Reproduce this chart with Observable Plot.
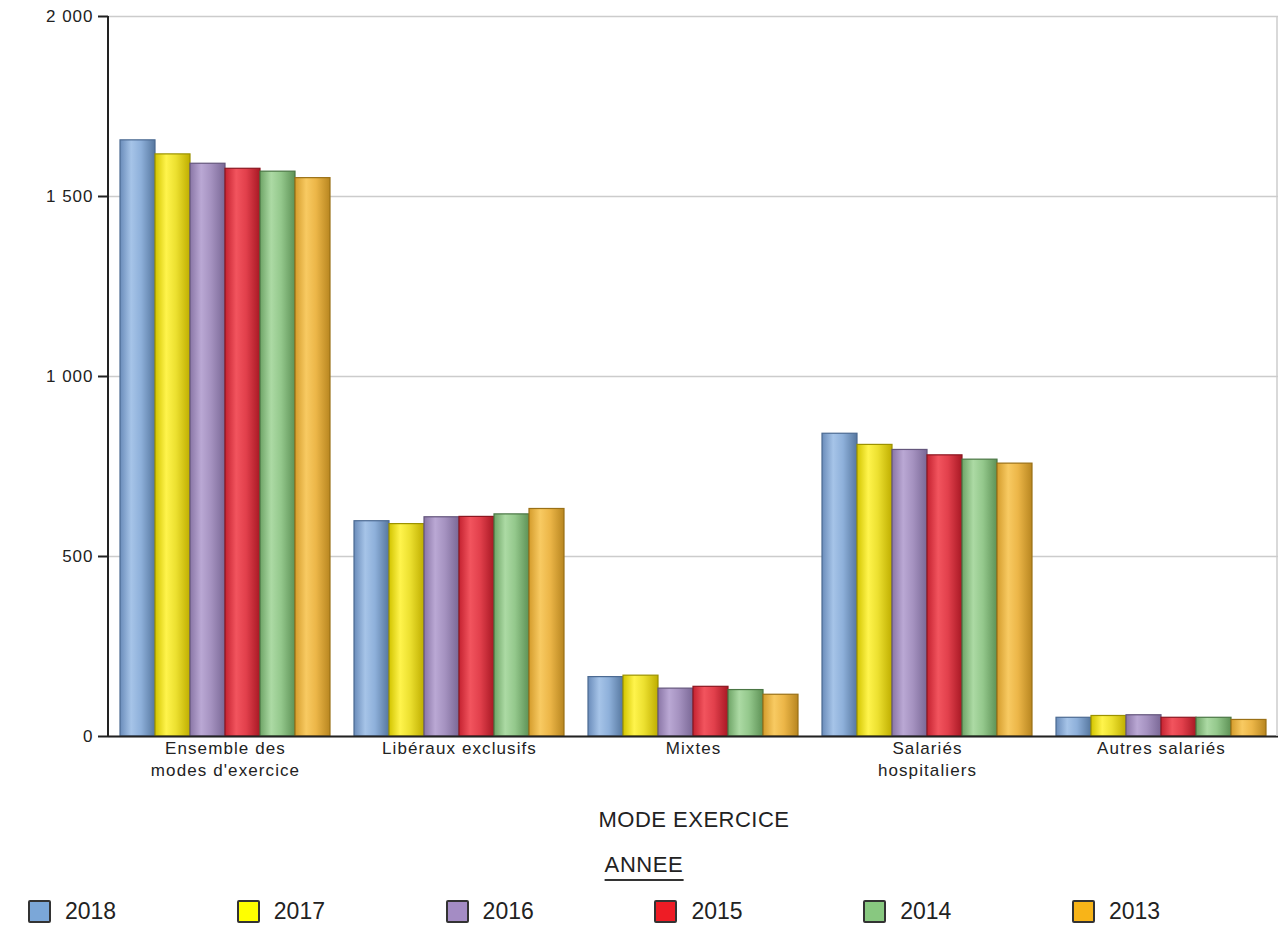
<!DOCTYPE html>
<html>
<head>
<meta charset="utf-8">
<script src="https://cdn.jsdelivr.net/npm/d3@7"></script>
<script src="https://cdn.jsdelivr.net/npm/@observablehq/plot@0.6"></script>
<style>
  html, body { margin: 0; padding: 0; background: #fff; }
  body { width: 1281px; height: 930px; position: relative; overflow: hidden; font-family: "Liberation Sans", Arial, sans-serif; color: #222; }
  #chart { position: absolute; left: 0; top: 0; }
  .xlabel { position: absolute; top: 807px; left: 694px; transform: translateX(-50%); font-size: 22px; letter-spacing: 0.5px; white-space: nowrap; }
  .ltitle { position: absolute; top: 853px; left: 644px; transform: translateX(-50%); font-size: 22px; letter-spacing: 0.6px; border-bottom: 2px solid #333; line-height: 24px; padding-bottom: 2px; }
  .legend { position: absolute; top: 898px; left: 28px; display: flex; }
  .item { width: 208.8px; display: flex; align-items: center; font-size: 23px; }
  .sw { width: 19px; height: 19px; border: 2px solid #333; border-radius: 2px; margin-right: 14px; box-sizing: content-box; }
  .ytick text { letter-spacing: 1px; }
</style>
</head>
<body>
<svg width="0" height="0" style="position:absolute">
  <defs id="defs"></defs>
</svg>
<div id="chart"></div>
<div class="xlabel">MODE EXERCICE</div>
<div class="ltitle">ANNEE</div>
<div class="legend" id="legend"></div>
<script>
// ---- data ----
const categories = ["Ensemble des modes d'exercice", "Libéraux exclusifs", "Mixtes", "Salariés hospitaliers", "Autres salariés"];
const categoryLabels = ["Ensemble des\nmodes d'exercice", "Libéraux exclusifs", "Mixtes", "Salariés\nhospitaliers", "Autres salariés"];
const years = ["2018", "2017", "2016", "2015", "2014", "2013"];
const values2018 = [1656, 598, 165, 841, 52];
const values2017 = [1617, 590, 169, 810, 57];
const values2016 = [1591, 609, 133, 796, 59];
const values2015 = [1577, 610, 138, 781, 52];
const values2014 = [1569, 617, 129, 769, 52];
const values2013 = [1551, 632, 116, 758, 46];
const yTicks = [0, 500, 1000, 1500, 2000];
const yTickLabels = ["0", "500", "1 000", "1 500", "2 000"];

// ---- styles ----
const seriesValues = [values2018, values2017, values2016, values2015, values2014, values2013];
const legendColors = ["#7ba7d8", "#ffff00", "#a48cc4", "#ee1c25", "#88c880", "#f8b418"];
const gradStops = [
  ["#6a8cba", "#a6c4e8", "#8eb0da", "#56779f"],
  ["#d2c400", "#fff44c", "#ece030", "#bfae00"],
  ["#8a76a6", "#baa8d4", "#a592c0", "#7a6896"],
  ["#c42230", "#f2545e", "#e2404c", "#a81824"],
  ["#6ea466", "#acdaa4", "#94c88c", "#5e9256"],
  ["#d49c2c", "#f8ca62", "#ecb648", "#b88620"]
];
const strokeColors = ["#4b6a92", "#9c9200", "#64567c", "#8c1620", "#4a7644", "#9a7016"];

const defs = d3.select("#defs");
years.forEach((y, i) => {
  const g = defs.append("linearGradient").attr("id", "g" + y).attr("x1", 0).attr("x2", 1).attr("y1", 0).attr("y2", 0);
  const s = gradStops[i];
  [[0, s[0]], [0.32, s[1]], [0.6, s[2]], [1, s[3]]].forEach(([o, c]) => g.append("stop").attr("offset", o).attr("stop-color", c));
});

const data = [];
years.forEach((y, i) => categories.forEach((c, j) => data.push({cat: c, year: y, value: seriesValues[i][j]})));

const labelOf = new Map(categories.map((c, i) => [c, categoryLabels[i]]));
const tickLabelOf = new Map(yTicks.map((t, i) => [t, yTickLabels[i]]));

const marginLeft = 108, marginRight = 3, marginTop = 16, marginBottom = 54, width = 1281, height = 790;

const plot = Plot.plot({
  width, height, marginLeft, marginRight, marginTop, marginBottom,
  style: {fontFamily: "'Liberation Sans', Arial, sans-serif", fontSize: "17px", color: "#222", background: "transparent"},
  fx: {domain: categories, padding: 0, axis: "bottom", tickSize: 0, tickPadding: 5, tickFormat: c => labelOf.get(c), label: null},
  x: {domain: years, axis: null, paddingInner: 0, paddingOuter: 0.31},
  y: {domain: [0, 2000], ticks: yTicks, tickFormat: t => tickLabelOf.get(t), grid: true, label: null, tickSize: 10, tickPadding: 5},
  marks: [
    ...years.map((y, i) => Plot.barY(data.filter(d => d.year === y), {
      fx: "cat", x: "year", y: "value",
      fill: `url(#g${y})`, stroke: strokeColors[i], strokeWidth: 1.2
    })),
    Plot.ruleY([0], {stroke: "#222", strokeWidth: 2})
  ]
});
document.getElementById("chart").appendChild(plot);

// grid styling, axis line & right border
const svg = d3.select(plot);
svg.selectAll("[aria-label='y-grid'] line, [aria-label='y-grid'] path").attr("stroke", "#cccccc").attr("stroke-opacity", 1).attr("stroke-width", 1.5);
svg.selectAll("[aria-label='y-axis tick label'] text, [aria-label='y-axis'] text").style("letter-spacing", "1px");
svg.selectAll("[aria-label='fx-axis tick label'] text, [aria-label='fx-axis'] text").style("letter-spacing", "1.1px");
svg.selectAll("[aria-label='fx-axis tick label'] text tspan, [aria-label='fx-axis'] text tspan").each(function(d, i) {
  const parent = this.parentNode;
  if (parent.firstChild !== this) d3.select(this).attr("dy", "1.3em");
});
const yScale = plot.scale("y");
const [r0, r1] = yScale.range;
svg.append("line").attr("x1", marginLeft).attr("x2", marginLeft).attr("y1", r1).attr("y2", r0).attr("stroke", "#222").attr("stroke-width", 2);
svg.append("line").attr("x1", width - marginRight - 1).attr("x2", width - marginRight - 1).attr("y1", r1).attr("y2", r0).attr("stroke", "#cccccc").attr("stroke-width", 1.5);
svg.selectAll("[aria-label='y-axis tick'] path, [aria-label='y-axis'] .tick line").attr("stroke", "#222").attr("stroke-width", 2);

// legend
const legend = d3.select("#legend");
years.forEach((y, i) => {
  const it = legend.append("div").attr("class", "item");
  it.append("div").attr("class", "sw").style("background", legendColors[i]);
  it.append("span").text(y);
});
</script>
</body>
</html>
